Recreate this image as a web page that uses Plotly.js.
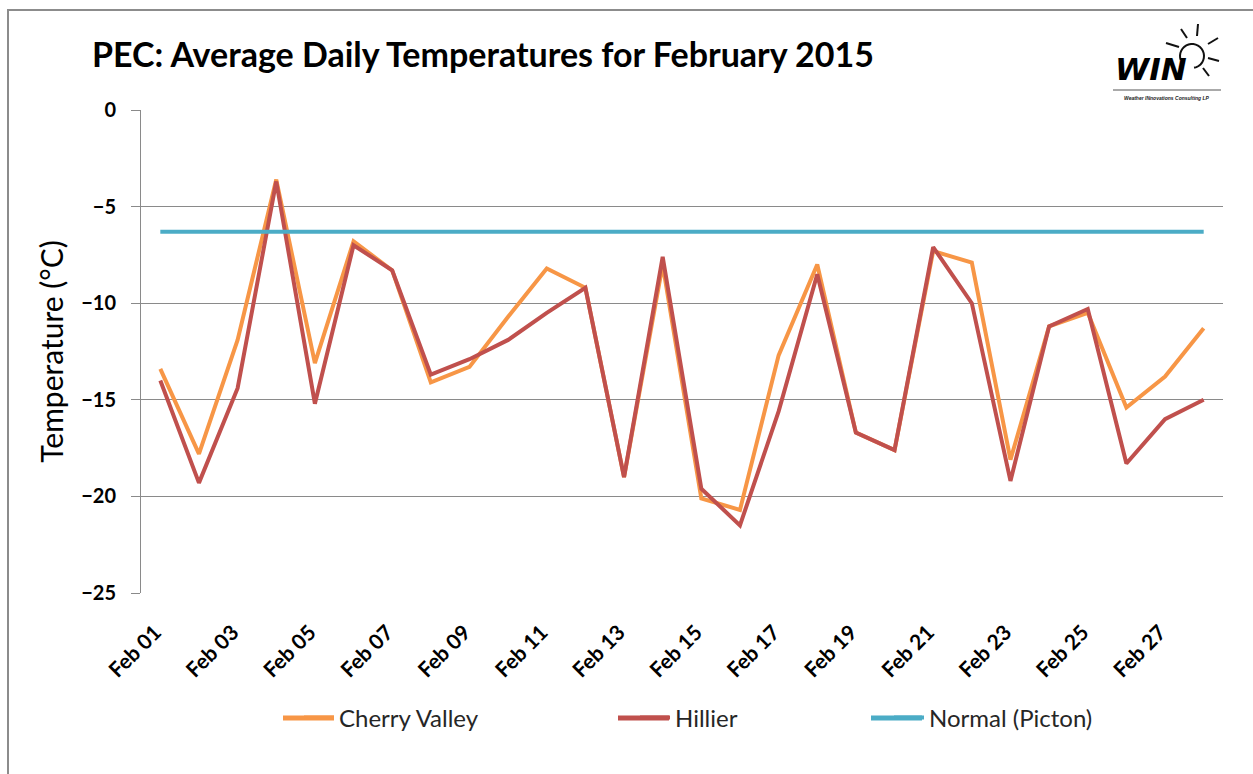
<!DOCTYPE html>
<html>
<head>
<meta charset="utf-8">
<script src="https://cdn.plot.ly/plotly-3.0.1.min.js"></script>
<style>html,body{margin:0;padding:0;background:#fff;}#chart{width:1253px;height:774px;}</style>
</head>
<body>
<div id="chart"></div>
<script>
const days = ["Feb 01","Feb 02","Feb 03","Feb 04","Feb 05","Feb 06","Feb 07","Feb 08","Feb 09","Feb 10","Feb 11","Feb 12","Feb 13","Feb 14","Feb 15","Feb 16","Feb 17","Feb 18","Feb 19","Feb 20","Feb 21","Feb 22","Feb 23","Feb 24","Feb 25","Feb 26","Feb 27","Feb 28"];
const cherryValley = [-13.4,-17.8,-11.9,-3.6,-13.1,-6.8,-8.3,-14.1,-13.3,-10.7,-8.2,-9.2,-19.0,-8.0,-20.1,-20.7,-12.7,-8.0,-16.7,-17.6,-7.3,-7.9,-18.1,-11.2,-10.5,-15.4,-13.8,-11.3];
const hillier = [-14.0,-19.3,-14.4,-3.7,-15.2,-7.0,-8.3,-13.7,-12.9,-11.9,-10.5,-9.2,-19.0,-7.6,-19.6,-21.5,-15.6,-8.5,-16.7,-17.6,-7.1,-10.0,-19.2,-11.2,-10.3,-18.3,-16.0,-15.0];
const normalPicton = [-6.3,-6.3,-6.3,-6.3,-6.3,-6.3,-6.3,-6.3,-6.3,-6.3,-6.3,-6.3,-6.3,-6.3,-6.3,-6.3,-6.3,-6.3,-6.3,-6.3,-6.3,-6.3,-6.3,-6.3,-6.3,-6.3,-6.3,-6.3];
const seriesNames = ["Cherry Valley","Hillier","Normal (Picton)"];
const seriesColors = ["#F79646","#C0504D","#4BACC6"];
const titleText = "PEC: Average Daily Temperatures for February 2015";
const yTitle = "Temperature (°C)";

const W = 1253, H = 774;
const L = 141, R = 1223, T = 110, B = 593;
const px = x => (x - L) / (R - L);
const py = y => (B - y) / (B - T);
const FONT = "Lato, 'Open Sans', sans-serif";
const GRID = "#8a8a8a";

const traces = [
  {x: days, y: cherryValley, name: seriesNames[0], type: "scatter", mode: "lines",
   line: {color: seriesColors[0], width: 4}, legend: "legend"},
  {x: days, y: hillier, name: seriesNames[1], type: "scatter", mode: "lines",
   line: {color: seriesColors[1], width: 4}, legend: "legend2"},
  {x: days, y: normalPicton, name: seriesNames[2], type: "scatter", mode: "lines",
   line: {color: seriesColors[2], width: 4}, legend: "legend3"}
];

function sunPath() {
  const cx = 1192, cy = 56, r = 12;
  let d = "";
  const a0 = 200, a1 = -80;
  for (let i = 0; i <= 24; i++) {
    const a = (a0 + (a1 - a0) * i / 24) * Math.PI / 180;
    const X = cx + r * Math.cos(a), Y = cy - r * Math.sin(a);
    d += (i === 0 ? "M" : "L") + px(X) + "," + py(Y);
  }
  return d;
}
const rays = [
  [1181,29,1187,38],[1198,24,1197,36],[1166,43,1179,47],
  [1208,44,1218,38],[1208,58,1219,61],[1203,68,1209,76]
];
// legend key lines (Excel-style long keys): start x, end x for each legend entry
const legendKeyX = [[283,334],[618,669],[871,922]];
const legendY = 718;

const shapes = [
  {type: "rect", xref: "paper", yref: "paper", x0: px(8), x1: px(1270), y0: py(10), y1: py(790),
   line: {color: "#8c8c8c", width: 2}, fillcolor: "rgba(0,0,0,0)", layer: "below"},
  {type: "path", xref: "paper", yref: "paper", path: sunPath(), line: {color: "#111", width: 2}},
  {type: "line", xref: "paper", yref: "paper", x0: px(1113), x1: px(1221), y0: py(90), y1: py(90),
   line: {color: "#555", width: 1}}
].concat(rays.map(r => ({type: "line", xref: "paper", yref: "paper",
   x0: px(r[0]), y0: py(r[1]), x1: px(r[2]), y1: py(r[3]), line: {color: "#111", width: 2}})))
 .concat(legendKeyX.map((k, i) => ({type: "line", xref: "paper", yref: "paper",
   x0: px(k[0]), x1: px(k[1]), y0: py(legendY), y1: py(legendY),
   line: {color: seriesColors[i], width: 5}})));

const annotations = [
  {xref: "paper", yref: "paper", x: px(1151), y: py(69), text: "<b><i>WIN</i></b>", showarrow: false,
   font: {family: "'DejaVu Sans', sans-serif", size: 31, color: "#000"}, xanchor: "center", yanchor: "middle"},
  {xref: "paper", yref: "paper", x: px(1167), y: py(98), text: "<b><i>Weather INnovations Consulting LP</i></b>", showarrow: false,
   font: {family: "'Liberation Sans Narrow', 'Liberation Sans', sans-serif", size: 5, color: "#222"}, xanchor: "center", yanchor: "middle"}
];

const legendBase = {orientation: "h", xref: "paper", yref: "paper", yanchor: "middle", y: py(legendY),
  xanchor: "left", font: {family: FONT, size: 24, color: "#262626"}, bgcolor: "rgba(0,0,0,0)", borderwidth: 0};

const layout = {
  width: W, height: H,
  paper_bgcolor: "#fff", plot_bgcolor: "#fff",
  margin: {l: L, r: W - R, t: T, b: H - B, pad: 0},
  title: {text: "<b>" + titleText + "</b>", xref: "container", yref: "container",
          x: 92 / W, xanchor: "left", y: 1 - 55 / H, yanchor: "middle",
          font: {family: FONT, size: 34, color: "#000"}},
  showlegend: true,
  legend: Object.assign({}, legendBase, {x: px(299)}),
  legend2: Object.assign({}, legendBase, {x: px(635)}),
  legend3: Object.assign({}, legendBase, {x: px(889)}),
  xaxis: {type: "category", categoryorder: "array", categoryarray: days, range: [-0.5, 27.5],
          tickmode: "linear", tick0: 0, dtick: 2, tickangle: -45,
          ticklabelstandoff: 22, ticklabelshift: -5,
          showgrid: false, zeroline: false, showline: false, ticks: "",
          tickfont: {family: FONT, size: 21, color: "#000", weight: "bold"}, automargin: false},
  xaxis2: {overlaying: "x", anchor: "y", side: "top", range: [0, 28], tickmode: "linear", tick0: 0, dtick: 2,
           ticks: "inside", ticklen: 9, tickcolor: GRID, tickwidth: 1, showticklabels: false,
           showline: true, linecolor: GRID, linewidth: 1, showgrid: false, zeroline: false, automargin: false},
  yaxis: {range: [-25, 0], tickmode: "linear", tick0: 0, dtick: 5,
          showgrid: true, gridcolor: GRID, gridwidth: 1, zeroline: false,
          showline: true, linecolor: GRID, linewidth: 1, ticks: "outside", ticklen: 9, tickcolor: GRID,
          ticklabelstandoff: 11,
          tickfont: {family: FONT, size: 20, color: "#000", weight: "bold"},
          title: {text: yTitle, font: {family: FONT, size: 30, color: "#000"}, standoff: 8}, automargin: false},
  shapes: shapes,
  annotations: annotations
};

Plotly.newPlot("chart", traces, layout, {displayModeBar: false, staticPlot: true});
</script>
</body>
</html>
